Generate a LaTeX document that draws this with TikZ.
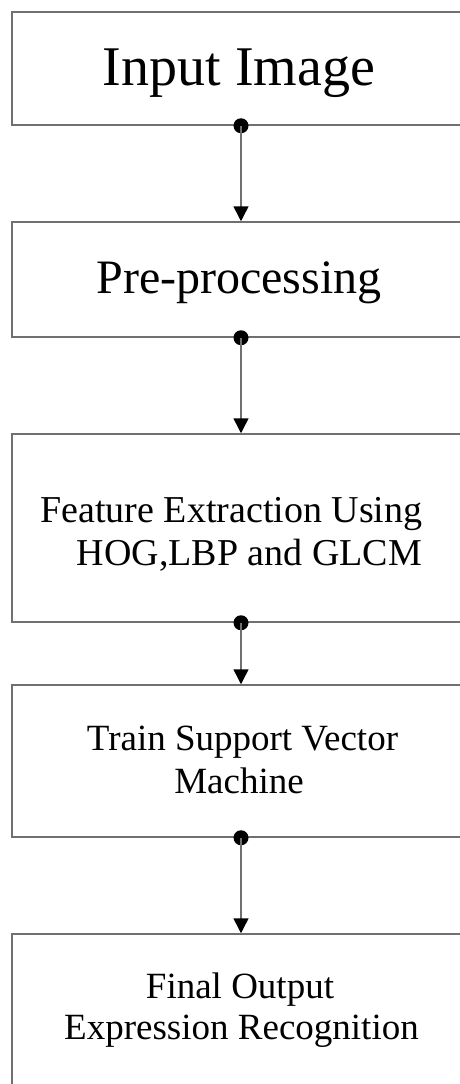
\documentclass[tikz,border=0pt]{standalone}
\usepackage{fontspec}
\setmainfont{Liberation Serif}
\usetikzlibrary{arrows.meta}
\definecolor{edgegray}{RGB}{112,112,112}
\begin{document}
\begin{tikzpicture}[x=1pt,y=-1pt,
  stepbox/.style={draw=edgegray,line width=1.5pt,minimum width=458pt,inner sep=0pt},
  caption/.style={anchor=base,inner sep=0pt,text=black},
  flow/.style={draw=edgegray,line width=1.5pt,-{Triangle[length=15pt,width=15pt,black]}},
  joint/.style={circle,fill=black,inner sep=0pt,minimum size=15pt}]
\clip (0,0) rectangle (460,1084);

% process boxes (right side runs past the page edge)
\node[stepbox,minimum height=113pt] (b1) at (241,68.5) {};
\node[stepbox,minimum height=115pt] (b2) at (241,279.5) {};
\node[stepbox,minimum height=188pt] (b3) at (241,528) {};
\node[stepbox,minimum height=152pt] (b4) at (241,761) {};
\node[stepbox,minimum height=166pt] (b5) at (241,1017) {};

% box texts
\node[caption,font=\fontsize{56pt}{60pt}\selectfont] (t1) at (239,85) {Input Image};
\node[caption,font=\fontsize{48pt}{52pt}\selectfont] (t2) at (239,293) {Pre-processing};
\node[caption,font=\fontsize{38pt}{43pt}\selectfont] (t3a) at (231.5,522) {Feature Extraction Using};
\node[caption,font=\fontsize{38pt}{43pt}\selectfont] (t3b) at (249.5,565) {HOG,LBP and GLCM};
\node[caption,font=\fontsize{37pt}{43pt}\selectfont] (t4a) at (242.5,750) {Train Support Vector};
\node[caption,font=\fontsize{37pt}{43pt}\selectfont] (t4b) at (239,793) {Machine};
\node[caption,font=\fontsize{37pt}{43pt}\selectfont] (t5a) at (240,998) {Final Output};
\node[caption,font=\fontsize{37pt}{43pt}\selectfont] (t5b) at (241.5,1039) {Expression Recognition};

% connectors with a dot at each source box
\foreach \a/\b in {b1/b2,b2/b3,b3/b4,b4/b5}{
  \node[joint] (j\a) at (\a.south) {};
  \draw[flow] (j\a.center) -- (\b.north);
}
\end{tikzpicture}
\end{document}
